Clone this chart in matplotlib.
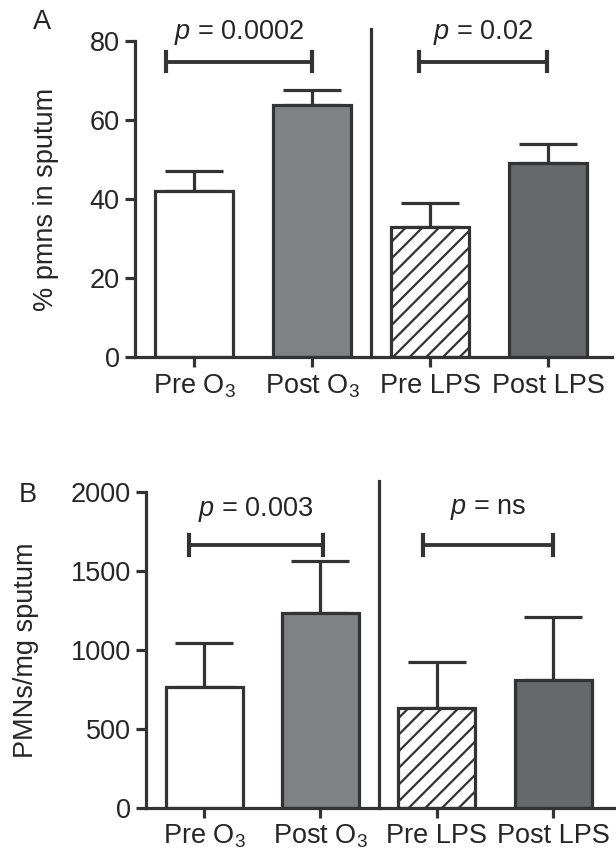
import matplotlib
matplotlib.use("Agg")
import matplotlib.pyplot as plt

plt.rcParams['font.family'] = ['Liberation Sans', 'DejaVu Sans']
plt.rcParams['mathtext.fontset'] = 'custom'
plt.rcParams['mathtext.rm'] = 'Liberation Sans'
plt.rcParams['mathtext.it'] = 'Liberation Sans:italic'
plt.rcParams['hatch.linewidth'] = 1.6
plt.rcParams['hatch.color'] = '#2e2e2e'

# data
groups = ["Pre O$_3$", "Post O$_3$", "Pre LPS", "Post LPS"]
pmn_pct = [42.0, 64.0, 33.0, 49.3]
pmn_pct_err = [5.1, 3.8, 6.0, 4.8]
pmn_mg = [767, 1237, 634, 810]
pmn_mg_err = [277, 329, 292, 397]
p_labels_a = ["$p$ = 0.0002", "$p$ = 0.02"]
p_labels_b = ["$p$ = 0.003", "$p$ = ns"]

INK = '#333333'
TXT = '#262626'
fills = ['white', '#808185', 'white', '#67686c']
hatches = [None, None, '//', None]
FS = 19.5
LW = 2.3


def draw_panel(ax, vals, errs, ylim, yticks, ylabel, brackets, ptexts, ptext_y,
               bar_y, tick_h):
    x = range(len(vals))
    bars = ax.bar(x, vals, width=0.66, color=fills, edgecolor=INK,
                  linewidth=LW, zorder=2)
    for b, h in zip(bars, hatches):
        if h:
            b.set_hatch(h)
    ax.errorbar(x, vals, yerr=[[0] * len(errs), errs], fmt='none',
                ecolor=INK, elinewidth=LW, capsize=21, capthick=LW, zorder=1)
    ax.axvline(1.5, ymin=0, ymax=1.038, color=INK, lw=LW, clip_on=False)
    ax.set_xlim(-0.5, 3.54)
    ax.set_ylim(*ylim)
    ax.set_yticks(yticks)
    ax.set_xticks(list(x))
    ax.set_xticklabels(groups)
    ax.set_ylabel(ylabel, fontsize=FS, color=TXT)
    for s in ['top', 'right']:
        ax.spines[s].set_visible(False)
    for s in ['left', 'bottom']:
        ax.spines[s].set_linewidth(LW)
        ax.spines[s].set_color(INK)
    ax.tick_params(labelsize=FS, width=LW, length=7, color=INK,
                   labelcolor=TXT, pad=4)
    for (x0, x1), txt in zip(brackets, ptexts):
        ax.plot([x0, x1], [bar_y, bar_y], color=INK, lw=LW * 1.2,
                solid_capstyle='butt', clip_on=False)
        for xe in (x0, x1):
            ax.plot([xe, xe], [bar_y - tick_h, bar_y + tick_h], color=INK,
                    lw=LW * 1.3, clip_on=False)
        ax.text((x0 + x1) / 2, ptext_y, txt, ha='center', va='center',
                fontsize=FS, color=TXT, clip_on=False)


fig = plt.figure(figsize=(6.16, 8.61), dpi=100)
ax_a = fig.add_axes([0.219, 0.585, 0.775, 0.367])
ax_b = fig.add_axes([0.237, 0.062, 0.763, 0.366])

draw_panel(ax_a, pmn_pct, pmn_pct_err, (0, 80), [0, 20, 40, 60, 80],
           "% pmns in sputum", [(-0.24, 1.0), (1.9, 2.99)], p_labels_a,
           82.3, 74.8, 2.4)
draw_panel(ax_b, pmn_mg, pmn_mg_err, (0, 2000), [0, 500, 1000, 1500, 2000],
           "PMNs/mg sputum", [(-0.13, 1.02), (1.88, 3.0)], p_labels_b,
           1895, 1668, 65)

ax_a.yaxis.set_label_coords(-0.16, 0.5)
ax_b.yaxis.set_label_coords(-0.227, 0.5)

fig.text(42 / 616, 1 - 22 / 861, "A", fontsize=FS, ha='center', va='center',
         color=TXT)
fig.text(28 / 616, 1 - 495 / 861, "B", fontsize=FS, ha='center', va='center',
         color=TXT)

fig.savefig("out.png", dpi=100, facecolor='white')
